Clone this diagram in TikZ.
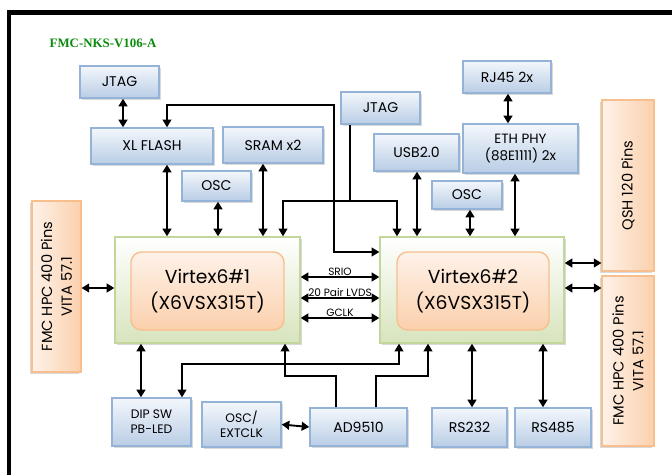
\documentclass[tikz,border=0pt]{standalone}
\usepackage{fontspec}
\setmainfont{Poppins}
\newfontfamily\titlefont{Liberation Serif}
\usetikzlibrary{arrows.meta, positioning, calc, shadows}

\definecolor{bluetop}{HTML}{F3F7FC}
\definecolor{bluebot}{HTML}{B9CDE5}
\definecolor{blueline}{HTML}{95B3D7}
\definecolor{greenbot}{HTML}{D7E4BD}
\definecolor{greenline}{HTML}{C3D69B}
\definecolor{orgtop}{HTML}{FEF2E9}
\definecolor{orgbot}{HTML}{FBD0AC}
\definecolor{orgline}{HTML}{F9BE8E}
\definecolor{titlegreen}{HTML}{0B8A0B}

\begin{document}
\begin{tikzpicture}[x=0.03cm, y=-0.03cm, font=\fontsize{12}{14}\selectfont,
    >={Triangle[length=6.5pt,width=7.5pt]},
    shd/.style={drop shadow={shadow xshift=1.6pt, shadow yshift=-1.6pt, opacity=0.3}},
    blk/.style={draw=blueline, line width=1.2pt, top color=bluetop, bottom color=bluebot, inner sep=1pt, align=center, shd},
    fpga/.style={draw=greenline, line width=1.2pt, top color=white, bottom color=greenbot, minimum width=5.55cm, minimum height=3.18cm, shd},
    core/.style={draw=orgline, line width=1.2pt, rounded corners=9pt, top color=orgtop, bottom color=orgbot, align=center, minimum width=4.59cm, minimum height=2.34cm, font=\fontsize{16}{22}\selectfont},
    conn/.style={draw=orgline, line width=1pt, left color=orgtop, right color=orgbot, align=center, rotate=90, inner sep=1pt, font=\fontsize{12.5}{17}\selectfont, drop shadow={shadow xshift=-1.6pt, shadow yshift=-1.6pt, opacity=0.3}},
    arr/.style={<->, line width=1.6pt},
    lnk/.style={line width=1.2pt},
    bus/.style={font=\fontsize{9}{10}\selectfont, above=-0.5pt, inner sep=1pt}
  ]
  \useasboundingbox (0,0) rectangle (672,475);
  % frame and title
  \draw[line width=3.5pt] (9,475) -- (9,12.5) -- (672,12.5);
  \node[font=\titlefont\fontsize{11}{13}\selectfont\bfseries, text=titlegreen] (title) at (103,43) {FMC-NKS-V106-A};

  % FPGAs
  \node[fpga] (vone) at (207.5,290) {};
  \node[core] (vonec) at (207.5,291) {Virtex6\#1\\(X6VSX315T)};
  \node[fpga, minimum width=5.52cm] (vtwo) at (472,290) {};
  \node[core, minimum width=4.56cm] (vtwoc) at (473,291) {Virtex6\#2\\(X6VSX315T)};

  % peripherals, left device
  \node[blk, minimum width=2.37cm, minimum height=0.96cm] (jtaga) at (119.5,82) {JTAG};
  \node[blk, minimum width=3.66cm, minimum height=1.08cm] (xflash) at (152,146) {XL FLASH};
  \node[blk, minimum width=3.0cm, minimum height=1.08cm] (sram) at (273,145) {SRAM x2};
  \node[blk, minimum width=2.07cm, minimum height=0.9cm] (osca) at (216.5,186) {OSC};
  \node[blk, minimum width=2.37cm, minimum height=1.44cm, font=\fontsize{10.5}{13}\selectfont] (dip) at (151.5,422) {DIP SW\\PB-LED};
  \node[blk, minimum width=2.37cm, minimum height=1.35cm, font=\fontsize{10.5}{13}\selectfont] (oscx) at (241.5,424.5) {OSC/\\EXTCLK};
  \node[blk, minimum width=2.91cm, minimum height=1.14cm] (ad) at (358.5,427) {AD9510};

  % peripherals, right device
  \node[blk, minimum width=2.37cm, minimum height=0.96cm] (jtagb) at (380.5,108) {JTAG};
  \node[blk, minimum width=2.55cm, minimum height=1.11cm] (usb) at (416.5,152.5) {USB2.0};
  \node[blk, minimum width=2.64cm, minimum height=0.96cm] (rj) at (507,77) {RJ45 2x};
  \node[blk, minimum width=3.45cm, minimum height=1.47cm, font=\fontsize{11.5}{15}\selectfont] (eth) at (520.5,148.5) {ETH PHY\\(88E1111) 2x};
  \node[blk, minimum width=2.1cm, minimum height=0.84cm] (oscb) at (467,195) {OSC};
  \node[blk, minimum width=2.25cm, minimum height=1.17cm] (rsa) at (469.5,427.5) {RS232};
  \node[blk, minimum width=2.28cm, minimum height=1.17cm] (rsb) at (553,427.5) {RS485};

  % connectors (rotated)
  \node[conn, minimum width=5.13cm, minimum height=1.47cm] (fmcl) at (56.5,286.5) {FMC HPC 400 Pins\\VITA 57.1};
  \node[conn, minimum width=5.13cm, minimum height=1.56cm] (qsh) at (628,185.5) {QSH 120 Pins};
  \node[conn, minimum width=5.1cm, minimum height=1.56cm] (fmcr) at (628,361) {FMC HPC 400 Pins\\VITA 57.1};

  % straight links
  \foreach \x/\a/\b in {123/jtaga/xflash, 167/xflash/vone, 218/osca/vone, 263/sram/vone,
      417/usb/vtwo, 470/oscb/vtwo, 515/eth/vtwo, 508/rj/eth,
      141/vone/dip, 472/vtwo/rsa, 543/vtwo/rsb}
    \draw[arr] (\x,0 |- \a.south) -- (\x,0 |- \b.north);
  \draw[arr] (fmcl.south |- 0,288) -- (vone.west |- 0,288);
  \draw[arr] (vtwo.east |- 0,263) -- (qsh.north |- 0,263);
  \draw[arr] (vtwo.east |- 0,288) -- (fmcr.north |- 0,288);
  \draw[arr] (oscx.east) -- (ad.west);

  % buses between the FPGAs
  \draw[arr] (vone.east |- 0,277) -- node[bus] {SRIO} (vtwo.west |- 0,277);
  \draw[arr] (vone.east |- 0,298) -- node[bus] {20 Pair LVDS} (vtwo.west |- 0,298);
  \draw[arr] (vone.east |- 0,318) -- node[bus] {GCLK} (vtwo.west |- 0,318);

  % routed lines
  \draw[lnk, <->] (167,0 |- xflash.north) |- (334,105) |- (vtwo.west |- 0,252);
  \draw[lnk, <->] (283,0 |- vone.north) -- (283,201) -| (397,0 |- vtwo.north);
  \draw[lnk] (350,0 |- jtagb.south) -- (350,201);
  \draw[lnk, <->] (182,0 |- dip.north) -- (182,364) -| (399,0 |- vtwo.south);
  \draw[lnk, ->] (336,0 |- ad.north) -- (336,376) -| (285,0 |- vone.south);
  \draw[lnk, ->] (376,0 |- ad.north) -- (376,376) -| (428,0 |- vtwo.south);
\end{tikzpicture}
\end{document}
